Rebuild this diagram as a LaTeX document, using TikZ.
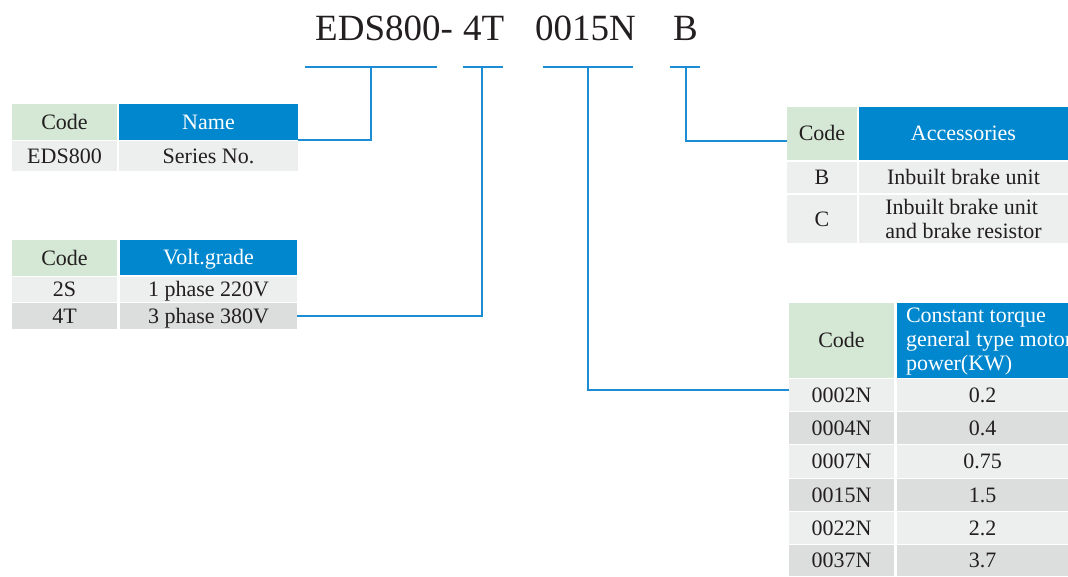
\documentclass[tikz,border=0pt]{standalone}
\usepackage{fontspec}
\setmainfont{Liberation Serif}
\definecolor{hdgreen}{RGB}{213,232,213}
\definecolor{hdblue}{RGB}{0,135,206}
\definecolor{rowlight}{RGB}{237,238,238}
\definecolor{rowdark}{RGB}{220,221,221}
\definecolor{linkblue}{RGB}{28,140,212}
\definecolor{ink}{RGB}{35,31,32}
\newcommand\tabfont{\fontsize{22}{24}\selectfont}
\newcommand\titlefont{\fontsize{37}{40}\selectfont}
\tikzset{
  cellbox/.style={anchor=north west, inner sep=0pt, outer sep=0pt, text=ink,
    font=\tabfont, text height=14.6pt, text depth=0.6pt},
  multicell/.style={anchor=north west, inner sep=0pt, outer sep=0pt, text=ink,
    font=\tabfont, align=left},
  green/.style={fill=hdgreen},
  blue/.style={fill=hdblue, text=white},
  light/.style={fill=rowlight},
  dark/.style={fill=rowdark},
  titletext/.style={anchor=base west, inner sep=0pt, text=ink, font=\titlefont},
  uline/.style={draw=linkblue, line width=2pt},
  conn/.style={draw=linkblue, line width=1.2pt},
}
\begin{document}
\begin{tikzpicture}[x=1pt,y=-1pt]
\useasboundingbox[fill=white] (0,0) rectangle (1068,576);

% ---- title code ----
\node[titletext] (tEDS) at (315,40) {EDS800-};
\node[titletext] (t4T) at (463,40) {4T};
\node[titletext] (t0015) at (535,40) {0015N};
\node[titletext] (tB) at (673,40) {B};

\coordinate (u1w) at (305,67); \coordinate (u1e) at (437,67); \coordinate (u1) at (371,67);
\coordinate (u2w) at (463,67); \coordinate (u2e) at (503,67); \coordinate (u2) at (482,67);
\coordinate (u3w) at (543,67); \coordinate (u3e) at (633,67); \coordinate (u3) at (588,67);
\coordinate (u4w) at (670,67); \coordinate (u4e) at (700,67); \coordinate (u4) at (686,67);
\draw[uline] (u1w) -- (u1e);
\draw[uline] (u2w) -- (u2e);
\draw[uline] (u3w) -- (u3e);
\draw[uline] (u4w) -- (u4e);

% ---- table 1 : series ----
\node[cellbox,green,minimum width=105pt,minimum height=36pt] (t1c) at (12,104) {Code};
\node[cellbox,blue,minimum width=179pt,minimum height=36pt] (t1n) at (119,104) {Name};
\node[cellbox,light,minimum width=105pt,minimum height=30pt] (t1a) at (12,141) {EDS800};
\node[cellbox,light,minimum width=179pt,minimum height=30pt] (t1b) at (119,141) {Series No.};

% ---- table 2 : voltage ----
\node[cellbox,green,minimum width=105pt,minimum height=36pt] (t2c) at (12,240) {Code};
\node[cellbox,blue,minimum width=177pt,minimum height=35pt] (t2n) at (120,240) {Volt.grade};
\node[cellbox,light,minimum width=105pt,minimum height=25pt] (t2a) at (12,277) {2S};
\node[cellbox,light,minimum width=177pt,minimum height=25pt] (t2b) at (120,277) {1 phase 220V};
\node[cellbox,dark,minimum width=105pt,minimum height=26pt] (t2d) at (12,303) {4T};
\node[cellbox,dark,minimum width=177pt,minimum height=26pt] (t2e) at (120,303) {3 phase 380V};

% ---- table 3 : accessories ----
\node[cellbox,green,minimum width=70pt,minimum height=53pt] (t3c) at (787,107) {Code};
\node[cellbox,blue,minimum width=209pt,minimum height=53pt] (t3n) at (859,107) {Accessories};
\node[cellbox,light,minimum width=70pt,minimum height=31pt] (t3a) at (787,162) {B};
\node[cellbox,light,minimum width=209pt,minimum height=31pt] (t3b) at (859,162) {Inbuilt brake unit};
\node[cellbox,light,minimum width=70pt,minimum height=48pt] (t3d) at (787,195) {C};
\node[multicell,light,minimum width=209pt,minimum height=48pt] (t3e) at (859,195) {Inbuilt brake unit\\and brake resistor};

% ---- table 4 : power ----
\node[cellbox,green,minimum width=105pt,minimum height=75pt] (t4c) at (789,303) {Code};
\node[cellbox,blue,minimum width=171pt,minimum height=75pt] (t4n) at (897,303) {};
\node[multicell,text=white] (t4h) at (906,308) {Constant torque\\general type motor\\power(KW)};
\node[cellbox,light,minimum width=105pt,minimum height=32pt] (r1c) at (789,379) {0002N};
\node[cellbox,light,minimum width=171pt,minimum height=32pt] (r1v) at (897,379) {0.2};
\node[cellbox,dark,minimum width=105pt,minimum height=32pt] (r2c) at (789,412) {0004N};
\node[cellbox,dark,minimum width=171pt,minimum height=32pt] (r2v) at (897,412) {0.4};
\node[cellbox,light,minimum width=105pt,minimum height=33pt] (r3c) at (789,445) {0007N};
\node[cellbox,light,minimum width=171pt,minimum height=33pt] (r3v) at (897,445) {0.75};
\node[cellbox,dark,minimum width=105pt,minimum height=32pt] (r4c) at (789,479) {0015N};
\node[cellbox,dark,minimum width=171pt,minimum height=32pt] (r4v) at (897,479) {1.5};
\node[cellbox,light,minimum width=105pt,minimum height=32pt] (r5c) at (789,512) {0022N};
\node[cellbox,light,minimum width=171pt,minimum height=32pt] (r5v) at (897,512) {2.2};
\node[cellbox,dark,minimum width=105pt,minimum height=31pt] (r6c) at (789,545) {0037N};
\node[cellbox,dark,minimum width=171pt,minimum height=31pt] (r6v) at (897,545) {3.7};

% ---- connectors ----
\coordinate (p3) at (787,141);
\coordinate (p4) at (789,390);
\draw[conn] (u1) |- (t1n.south east);
\draw[conn] (u2) |- (t2e.east);
\draw[conn] (u4) |- (p3);
\draw[conn] (u3) |- (p4);
\end{tikzpicture}
\end{document}
